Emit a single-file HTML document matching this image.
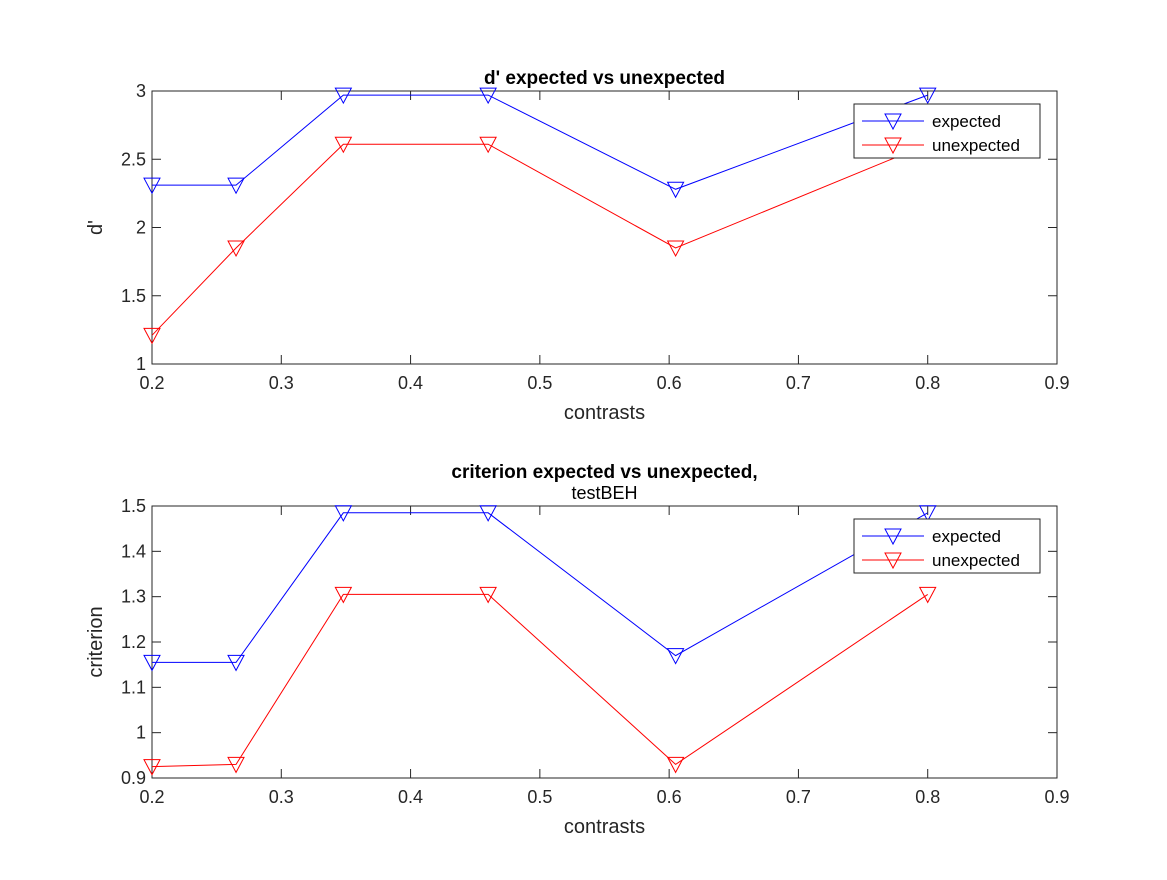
<!DOCTYPE html>
<html><head><meta charset="utf-8"><style>
body{margin:0;background:#fff}
svg{font-family:"Liberation Sans",Arial,sans-serif}
</style></head><body>
<svg id="c" width="1167" height="875" viewBox="0 0 1167 875" xmlns="http://www.w3.org/2000/svg"></svg>
<script>
const contrasts=[0.2,0.265,0.348,0.46,0.605,0.8];
const dExpected=[2.31,2.31,2.97,2.97,2.28,2.97];
const dUnexpected=[1.21,1.85,2.61,2.61,1.85,2.61];
const cExpected=[1.155,1.155,1.485,1.485,1.17,1.485];
const cUnexpected=[0.925,0.93,1.305,1.305,0.93,1.305];
const xTicks=[0.2,0.3,0.4,0.5,0.6,0.7,0.8,0.9];
const dTicks=[1,1.5,2,2.5,3];
const cTicks=[0.9,1,1.1,1.2,1.3,1.4,1.5];
const NS="http://www.w3.org/2000/svg";
const svg=document.getElementById('c');
function mk(t,a,p){const e=document.createElementNS(NS,t);for(const k in a)e.setAttribute(k,a[k]);(p||svg).appendChild(e);return e;}
function panel(name,top,bot,ymin,ymax,yt,ylab,titles,series,legY){
  const g=mk('g',{});
  
  
  const L=152,R=1057;
  const xs=v=>L+(v-0.2)/(0.7)*(R-L);
  const ys=v=>bot-(v-ymin)/(ymax-ymin)*(bot-top);
  mk('rect',{x:L,y:top,width:R-L,height:bot-top,fill:'#fff',stroke:'#262626','stroke-width':1},g);
  xTicks.forEach(t=>{const x=xs(t);
    mk('line',{x1:x,x2:x,y1:bot,y2:bot-9,stroke:'#262626'},g);
    mk('line',{x1:x,x2:x,y1:top,y2:top+9,stroke:'#262626'},g);
    const tx=mk('text',{x:x,y:bot+25,'text-anchor':'middle','font-size':18,fill:'#262626'},g);tx.textContent=String(t);
    
    });
  yt.forEach(t=>{const y=ys(t);
    mk('line',{x1:L,x2:L+9,y1:y,y2:y,stroke:'#262626'},g);
    mk('line',{x1:R,x2:R-9,y1:y,y2:y,stroke:'#262626'},g);
    const tx=mk('text',{x:L-6,y:y+6,'text-anchor':'end','font-size':18,fill:'#262626'},g);tx.textContent=String(t);
    
    });
  const xl=mk('text',{x:(L+R)/2,y:bot+55,'text-anchor':'middle','font-size':20,fill:'#262626'},g);xl.textContent='contrasts';
  
  
  const yl=mk('text',{x:0,y:0,'text-anchor':'middle','font-size':20,fill:'#262626',transform:`translate(102,${(top+bot)/2}) rotate(-90)`},g);yl.textContent=ylab;
  
  
  titles.forEach((t,i)=>{const e=mk('text',{x:(L+R)/2,y:top-(titles.length-i-1)*21-7,'text-anchor':'middle','font-size':i==0?19:18,'font-weight':i==0?'bold':'normal',fill:'#000'},g);e.textContent=t;
    
    });
  series.forEach(s=>{
    const pts=contrasts.map((c,i)=>xs(c)+','+ys(s.v[i])).join(' ');
    const pl=mk('polyline',{points:pts,fill:'none',stroke:s.c,'stroke-width':1},g);
    
    
    contrasts.forEach((c,i)=>{const x=xs(c),y=ys(s.v[i]);
      const m=mk('polygon',{points:`${x-8},${y-7} ${x+8},${y-7} ${x},${y+8}`,fill:'none',stroke:s.c,'stroke-width':1},g);
      
      });
  });
  const lg=mk('g',{},g);
  
  
  mk('rect',{x:854,y:legY,width:186,height:54,fill:'#fff',stroke:'#262626'},lg);
  series.forEach((s,i)=>{const y=legY+17+i*24;
    mk('line',{x1:862,x2:924,y1:y,y2:y,stroke:s.c},lg);
    mk('polygon',{points:`885,${y-7} 901,${y-7} 893,${y+8}`,fill:'none',stroke:s.c},lg);
    const t=mk('text',{x:932,y:y+6,'font-size':17,fill:'#000'},lg);t.textContent=s.n;
    
    });
}
panel('dprime-panel',91,364,1,3,dTicks,"d'",["d' expected vs unexpected"],[{n:'expected',c:'#0000ff',v:dExpected},{n:'unexpected',c:'#ff0000',v:dUnexpected}],104);
panel('criterion-panel',506,778,0.9,1.5,cTicks,'criterion',['criterion expected vs unexpected,','testBEH'],[{n:'expected',c:'#0000ff',v:cExpected},{n:'unexpected',c:'#ff0000',v:cUnexpected}],519);
</script>
</body></html>
